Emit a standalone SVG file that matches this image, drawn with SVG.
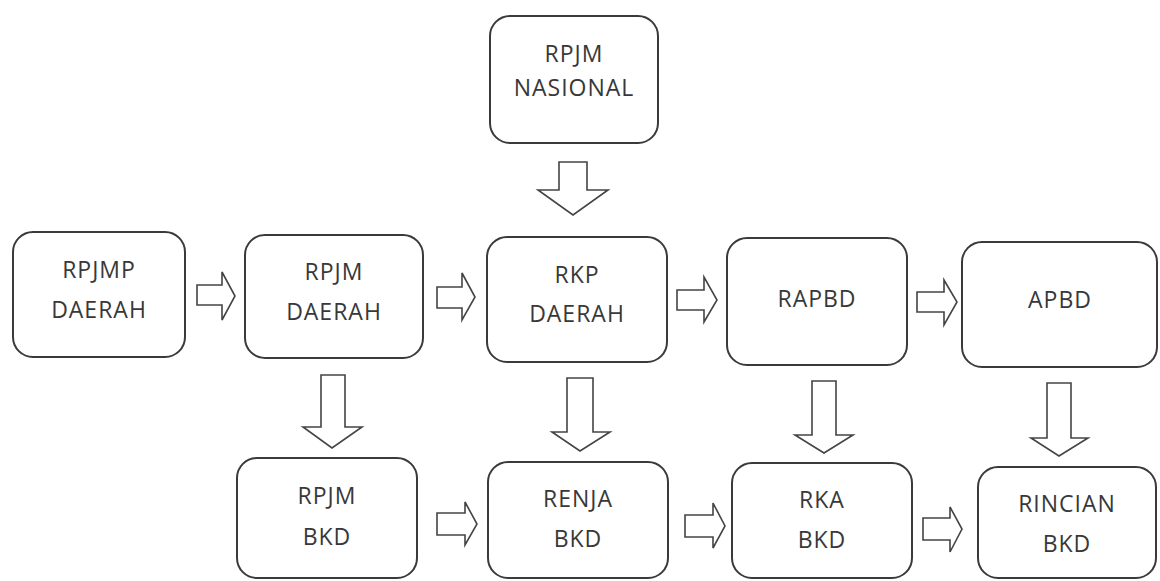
<svg xmlns="http://www.w3.org/2000/svg" width="1160" height="581" viewBox="0 0 1160 581">
<style>
.box{fill:#fff;stroke:#3a3a3a;stroke-width:2}
.arr{fill:#fff;stroke:#444;stroke-width:1.6;stroke-linejoin:miter}
text{font-family:"Open Sans","Liberation Sans",sans-serif;font-size:23px;fill:#383838;text-anchor:middle;letter-spacing:1px}
</style>
<rect width="1160" height="581" fill="#fff"/>
<g id="connectors">
<path class="arr" d="M559,162 H587 V190 H608 L573,215 L538,190 H559 Z"/>
<path class="arr" d="M197,285 H222 V272 L235,296 L222,320 V305 H197 Z"/>
<path class="arr" d="M437,287 H462 V273 L475,297 L462,320 V308 H437 Z"/>
<path class="arr" d="M677,290 H704 V277 L717,300 L704,322 V310 H677 Z"/>
<path class="arr" d="M917,292 H944 V280 L957,302 L944,325 V312 H917 Z"/>
<path class="arr" d="M321,375 H345 V427 H362 L332,448 L303,427 H321 Z"/>
<path class="arr" d="M567,378 H593 V432 H610 L580,451 L552,432 H567 Z"/>
<path class="arr" d="M812,381 H836 V435 H853 L824,453 L795,435 H812 Z"/>
<path class="arr" d="M1047,383 H1071 V438 H1088 L1059,456 L1031,438 H1047 Z"/>
<path class="arr" d="M437,513 H465 V502 L477,524 L465,545 V535 H437 Z"/>
<path class="arr" d="M685,515 H713 V503 L725,526 L713,548 V537 H685 Z"/>
<path class="arr" d="M923,518 H950 V507 L962,529 L950,552 V540 H923 Z"/>
</g>
<g id="rpjm-nasional"><rect class="box" x="490" y="16" width="168" height="127" rx="20"/><text x="574" y="62">RPJM</text><text x="574" y="96">NASIONAL</text></g>
<g id="rpjmp-daerah"><rect class="box" x="13" y="232" width="172" height="125" rx="20"/><text x="99" y="278">RPJMP</text><text x="99" y="318">DAERAH</text></g>
<g id="rpjm-daerah"><rect class="box" x="245" y="235" width="178" height="123" rx="20"/><text x="334" y="280">RPJM</text><text x="334" y="320">DAERAH</text></g>
<g id="rkp-daerah"><rect class="box" x="487" y="237" width="180" height="125" rx="20"/><text x="577" y="283">RKP</text><text x="577" y="322">DAERAH</text></g>
<g id="rapbd"><rect class="box" x="727" y="238" width="180" height="127" rx="20"/><text x="817" y="307">RAPBD</text></g>
<g id="apbd"><rect class="box" x="962" y="242" width="195" height="125" rx="20"/><text x="1060" y="308">APBD</text></g>
<g id="rpjm-bkd"><rect class="box" x="237" y="458" width="180" height="120" rx="20"/><text x="327" y="504">RPJM</text><text x="327" y="545">BKD</text></g>
<g id="renja-bkd"><rect class="box" x="488" y="462" width="180" height="116" rx="20"/><text x="578" y="507">RENJA</text><text x="578" y="547">BKD</text></g>
<g id="rka-bkd"><rect class="box" x="732" y="463" width="180" height="115" rx="20"/><text x="822" y="508">RKA</text><text x="822" y="548">BKD</text></g>
<g id="rincian-bkd"><rect class="box" x="978" y="467" width="178" height="111" rx="20"/><text x="1067" y="512">RINCIAN</text><text x="1067" y="552">BKD</text></g>
</svg>
